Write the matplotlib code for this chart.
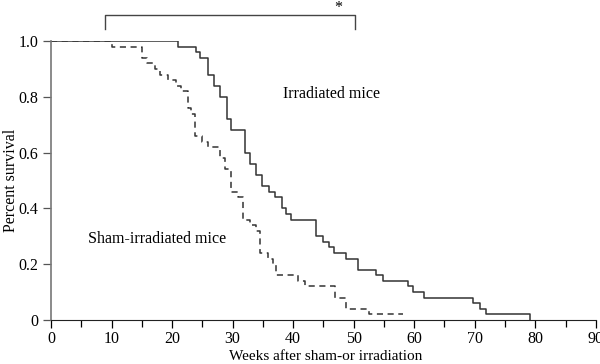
import numpy as np
import matplotlib.pyplot as plt

plt.rcParams['font.family'] = ['Liberation Serif', 'DejaVu Serif']

# Kaplan-Meier steps (time in weeks, survival after the step)
irr_weeks = [0, 21.0, 24.0, 24.6, 26.0, 26.9, 27.9, 29.0, 29.8, 32.0, 32.8, 33.9,
             34.9, 36.0, 37.0, 38.1, 38.9, 39.7, 43.8, 44.9, 45.9, 46.7, 48.8,
             50.7, 53.7, 54.8, 58.9, 59.8, 61.7, 69.7, 70.8, 71.8, 79.2]
irr_surv = [1.0, 0.98, 0.96, 0.94, 0.88, 0.84, 0.80, 0.72, 0.68, 0.60, 0.56, 0.52,
            0.48, 0.46, 0.44, 0.40, 0.38, 0.36, 0.30, 0.28, 0.26, 0.24, 0.22,
            0.18, 0.16, 0.14, 0.12, 0.10, 0.08, 0.06, 0.04, 0.02, 0.0]

sham_weeks = [0, 10.0, 15.0, 15.8, 17.2, 18.0, 19.4, 20.7, 21.5, 22.7, 23.2, 23.8,
              24.9, 26.0, 27.9, 28.7, 29.8, 30.9, 31.7, 32.8, 33.9, 34.5, 35.9,
              36.7, 37.2, 40.8, 41.9, 46.9, 48.8, 52.6, 58.2]
sham_surv = [1.0, 0.98, 0.94, 0.92, 0.90, 0.88, 0.86, 0.84, 0.82, 0.76, 0.74, 0.66,
             0.64, 0.62, 0.58, 0.54, 0.46, 0.44, 0.36, 0.34, 0.32, 0.24, 0.22,
             0.20, 0.16, 0.14, 0.12, 0.08, 0.04, 0.02, 0.02]

fs = 11.5

fig = plt.figure(figsize=(6, 3.64), dpi=100)
ax = fig.add_axes([0.085, 0.121, 0.908, 0.766])

ax.step(irr_weeks, irr_surv, where='post', color='#333333', lw=1.1)
ax.step(sham_weeks, sham_surv, where='post', color='#333333', lw=1.1,
        linestyle=(0, (4, 3)))

ax.set_xlim(0, 90)
ax.set_ylim(0, 1.0)
ax.set_xticks(np.arange(0, 91, 10))
ax.set_xticks(np.arange(5, 90, 10), minor=True)
ax.set_yticks([0, 0.2, 0.4, 0.6, 0.8, 1.0])
ax.set_yticklabels(['0', '0.2', '0.4', '0.6', '0.8', '1.0'])

for s in ['top', 'right']:
    ax.spines[s].set_visible(False)
ax.spines['left'].set_color('#777777')
ax.spines['bottom'].set_color('#222222')
ax.spines['left'].set_linewidth(1.2)
ax.tick_params(axis='both', labelsize=fs, direction='out', length=6, width=0.9)
ax.tick_params(axis='x', which='minor', length=5, width=0.9)
ax.tick_params(axis='x', pad=2)
ax.tick_params(axis='y', color='#555555', pad=3)

ax.set_xlabel('Weeks after sham-or irradiation', fontsize=11)
ax.xaxis.set_label_coords(0.504, -0.108)
ax.set_ylabel('Percent survival', fontsize=fs)
ax.yaxis.set_label_coords(-0.058, 0.5)

ax.text(38.3, 0.81, 'Irradiated mice', fontsize=fs, va='center')
ax.text(6.1, 0.29, 'Sham-irradiated mice', fontsize=fs, va='center')

# significance bracket
ax.plot([8.9, 8.9, 50.3, 50.3], [1.043, 1.093, 1.093, 1.043], color='#444444',
        lw=1.0, clip_on=False)
ax.text(47.4, 1.12, '*', fontsize=fs, ha='center', va='center')

fig.savefig('out.png', dpi=100)
